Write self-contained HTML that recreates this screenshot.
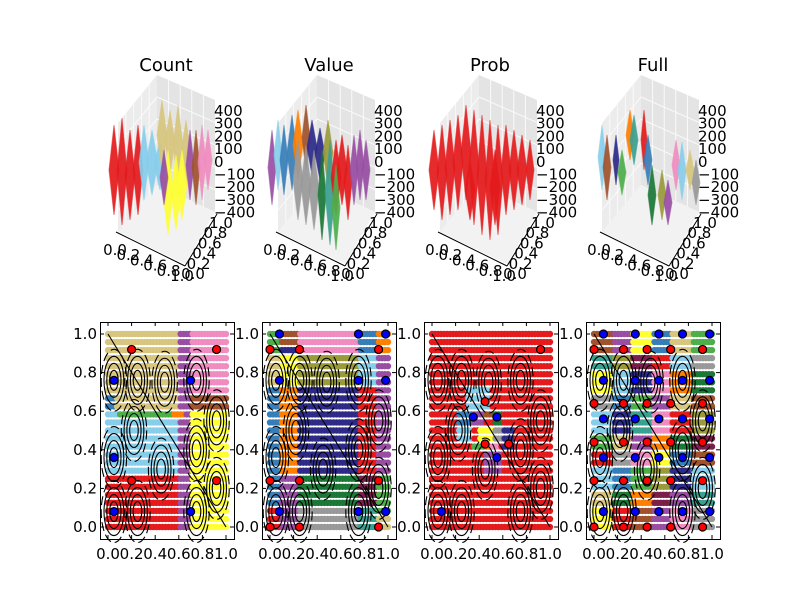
<!DOCTYPE html>
<html><head><meta charset="utf-8"><style>
body{margin:0;background:#fff}
svg{display:block}
text{font-family:"DejaVu Sans","Liberation Sans",sans-serif;fill:#000}
</style></head><body>
<svg id="fig" width="800" height="600" viewBox="0 0 800 600" xmlns="http://www.w3.org/2000/svg">
<rect width="800" height="600" fill="#fff"/>
</svg>
<script>
const titles=["Count","Value","Prob","Full"];
const xTicks=[0,0.2,0.4,0.6,0.8,1.0];
const xTickLabels=["0.0","0.2","0.4","0.6","0.8","1.0"];
const yTickLabels=["0.0","0.2","0.4","0.6","0.8","1.0"];
const zTickLabels=["400","300","200","100","0","\u2212100","\u2212200","\u2212300","\u2212400"];
const yDepthLabels=["1.0","0.8","0.6","0.4","0.2","0.0"];
const C={r:'#e41a1c',sb:'#87ceeb',kh:'#d8c67e',pk:'#f08cc0',pu:'#984ea3',ye:'#ffff33',br:'#a0522d',gr:'#4daf4a',or:'#ff7f00',st:'#377eb8',nv:'#2d2a88',ol:'#9a9a3a',dg:'#1b7837',gy:'#999999',mr:'#7b1e4a',tl:'#3aa090'};
const regions1=[[0,1,0,1,'r'],[0,0.6,0.6,1,'kh'],[0,0.06,0.6,0.7,'st'],[0,0.6,0.25,0.6,'sb'],[0.1,0.6,0.55,0.6,'gr'],[0,0.6,0,0.25,'r'],[0.6,0.7,0,1,'pu'],[0.56,0.65,0.56,0.62,'or'],[0.7,1,0.7,1,'pk'],[0.7,1,0.62,0.7,'br'],[0.7,1,0,0.62,'ye']];
const regions2=[[0,1,0,1,'nv'],[0,0.1,0.1,0.75,'st'],[0,0.1,0.88,1,'gr'],[0,0.1,0,0.1,'r'],[0.1,0.25,0.25,0.72,'or'],[0.1,0.25,0.72,0.88,'ye'],[0.1,0.25,0,0.25,'pu'],[0.1,0.25,0.92,1,'br'],[0,0.1,0.72,0.9,'kh'],[0.25,0.75,0.72,0.9,'ol'],[0.25,0.75,0.9,1,'pk'],[0.25,0.75,0.1,0.25,'dg'],[0.25,0.75,0,0.1,'gy'],[0.75,0.9,0.25,0.72,'r'],[0.75,0.9,0.72,0.9,'sb'],[0.75,0.9,0.9,1,'st'],[0.75,0.9,0.1,0.25,'mr'],[0.75,0.9,0,0.1,'tl'],[0.9,1,0.25,0.9,'pu'],[0.9,1,0.9,1,'or'],[0.9,1,0.05,0.25,'gr'],[0.9,1,0,0.05,'kh']];
const regions3=[[0,1,0,1,'r'],[0.3,0.5,0.62,0.72,'sb'],[0.22,0.35,0.52,0.62,'st'],[0.22,0.35,0.45,0.52,'sb'],[0.35,0.45,0.52,0.6,'pu'],[0.45,0.52,0.55,0.6,'br'],[0.52,0.6,0.52,0.6,'dg'],[0.4,0.52,0.45,0.52,'ye'],[0.52,0.6,0.45,0.52,'gy'],[0.6,0.7,0.4,0.52,'nv'],[0.35,0.45,0.38,0.45,'gr'],[0.45,0.5,0.38,0.45,'or'],[0.5,0.58,0.38,0.45,'pk'],[0.45,0.6,0.28,0.38,'pu']];
const palette4=['ye','r','br','pu','pk','gy','kh','dg','or','mr','pu','tl','sb','st','gr','ol','nv','sb','r','gy','pk','ye','st','br','gr','kh','pu','or','dg','mr','sb','nv','tl','pk','r','ol','gy','st','gr','pu','kh','br','ye','sb','nv','pk','or','dg','tl','ol','mr','r','sb','gy','br','pu','ye','st','kh','gr'];
const regions4=[];
for(let i=0;i<10;i++)for(let j=0;j<6;j++)regions4.push([j/6,(j+1)/6,i/10,(i+1)/10,palette4[(i*6+j)%palette4.length]]);
const allRegions=[regions1,regions2,regions3,regions4];
const blue1=[[0.05,0.08],[0.05,0.36],[0.05,0.76],[0.7,0.76],[0.7,0.08]];
const red1=[[0.2,0.92],[0.92,0.92],[0.2,0.24],[0.92,0.24]];
const blue2=[[0.08,1],[0.75,1],[0.98,1],[0.08,0.76],[0.75,0.76],[0.98,0.76],[0.08,0.08],[0.75,0.08],[0.98,0.08]];
const red2=[[0,0.92],[0.25,0.92],[0.92,0.92],[0,0.24],[0.25,0.24],[0.92,0.24],[0,0],[0.25,0],[0.92,0]];
const blue3=[[0.35,0.57],[0.55,0.57],[0.55,0.36],[0.08,0.08]];
const red3=[[0.45,0.65],[0.45,0.43],[0.65,0.43],[0.92,0.92]];
const bx4=[0.08,0.35,0.55,0.75,0.98],by4=[0.08,0.36,0.56,0.76,1.0];
const rx4=[0,0.25,0.45,0.65,0.92],ry4=[0,0.24,0.44,0.64,0.92];
const blue4=[],red4=[];
by4.forEach(y=>bx4.forEach(x=>blue4.push([x,y])));
ry4.forEach(y=>rx4.forEach(x=>red4.push([x,y])));
const blues=[blue1,blue2,blue3,blue4],reds=[red1,red2,red3,red4];
const contourCenters=[[0.05,0.08],[0.05,0.36],[0.05,0.76],[0.25,0.08],[0.22,0.5],[0.25,0.76],[0.45,0.3],[0.48,0.75],[0.75,0.76],[0.75,0.08],[0.75,0.4],[0.92,0.55],[0.92,0.2]];
const spikes=[
[[-4,125,215,10,'r'],[4,118,225,10,'r'],[12,130,220,10,'r'],[20,125,215,10,'r'],[26,125,200,10,'sb'],[34,130,195,12,'sb'],[42,140,190,12,'sb'],[44,100,170,10,'kh'],[52,110,175,10,'kh'],[60,105,185,10,'kh'],[68,120,185,10,'kh'],[50,150,235,10,'ye'],[58,155,230,10,'ye'],[64,150,220,10,'ye'],[46,150,205,8,'pu'],[72,130,200,8,'pu'],[78,130,205,8,'br'],[84,125,200,8,'pk'],[90,130,190,8,'pk']],
[[-6,130,205,8,'pu'],[0,120,190,8,'sb'],[6,125,195,8,'st'],[14,115,190,10,'st'],[20,110,180,10,'or'],[28,105,170,8,'br'],[34,120,175,10,'nv'],[42,128,180,10,'nv'],[50,120,185,10,'ol'],[20,140,220,10,'gy'],[28,145,225,10,'gy'],[36,150,230,10,'gy'],[44,150,240,8,'dg'],[52,140,245,10,'tl'],[58,140,215,10,'r'],[64,135,205,10,'r'],[70,145,220,8,'r'],[76,135,205,8,'pu'],[82,130,200,8,'pu'],[58,165,250,8,'gr'],[88,140,200,8,'pu']],
[[-6,130,210,10,'r'],[2,125,220,10,'r'],[10,120,215,10,'r'],[18,115,210,10,'r'],[26,105,200,10,'r'],[34,110,225,10,'r'],[42,115,235,10,'r'],[50,120,240,10,'r'],[58,125,235,10,'r'],[66,125,215,10,'r'],[74,130,210,10,'r'],[82,135,205,10,'r'],[90,140,200,8,'r'],[30,160,220,10,'r'],[55,150,225,10,'r']],
[[0,125,190,8,'sb'],[5,135,200,8,'br'],[14,135,185,6,'nv'],[20,150,195,8,'gr'],[28,110,160,8,'or'],[32,115,165,8,'tl'],[42,110,170,6,'r'],[46,135,185,8,'st'],[50,165,225,8,'dg'],[60,170,220,8,'ol'],[66,180,225,8,'pu'],[74,140,190,8,'pk'],[80,142,200,8,'sb'],[88,150,190,8,'kh'],[94,160,205,8,'gy']]
];
const svg=document.getElementById('fig');
const NS='http://www.w3.org/2000/svg';
function mk(tag,attrs,parent){const e=document.createElementNS(NS,tag);for(const k in attrs)e.setAttribute(k,attrs[k]);(parent||svg).appendChild(e);return e;}
function txt(x,y,s,anchor,size,parent){const t=mk('text',{x:x,y:y,'text-anchor':anchor||'middle','font-size':size||13},parent);t.textContent=s;return t;}

const axLefts=[100,262,424,586];
const AW=134, AT=322, AB=539;
function xs(ox,v){return ox+8+v*118;}
function ys(v){return 527-v*193;}
const nCols=40,nRows=25;
for(let p=0;p<4;p++){
  const ox=axLefts[p];
  const g=mk('g',{});
  
  
  mk('rect',{x:ox,y:AT,width:AW,height:AB-AT,fill:'#fff'},g);
  const regs=allRegions[p];
  const dots=mk('g',{},g);
  
  
  for(let i=0;i<nRows;i++){
    const yv=i/(nRows-1);
    for(let j=0;j<nCols;j++){
      const xv=j/(nCols-1);
      let col='r';
      for(const r of regs){if(xv>=r[0]-1e-9&&xv<=r[1]+1e-9&&yv>=r[2]-1e-9&&yv<=r[3]+1e-9)col=r[4];}
      mk('circle',{cx:xs(ox,xv),cy:ys(yv),r:3.2,fill:C[col]},dots);
    }
  }
  const cg=mk('g',{fill:'none',stroke:'#000','stroke-width':1.1},g);
  
  
  contourCenters.forEach(c=>{
    for(let k=1;k<=4;k++){
      mk('ellipse',{cx:xs(ox,c[0]),cy:ys(c[1]),rx:1.5+k*2.8,ry:3+k*7,'stroke-dasharray':k==4?'9 4':'none'},cg);
    }
  });
  mk('line',{x1:xs(ox,0),y1:ys(1),x2:xs(ox,1),y2:ys(0)},cg);
  blues[p].forEach(b=>{const c=mk('circle',{cx:xs(ox,b[0]),cy:ys(b[1]),r:4,fill:'#0000ff',stroke:'#000','stroke-width':1.2},g);});
  reds[p].forEach(b=>{const c=mk('circle',{cx:xs(ox,b[0]),cy:ys(b[1]),r:4,fill:'#ff0000',stroke:'#000','stroke-width':1.2},g);});
  const fr=mk('rect',{x:ox+0.5,y:AT+0.5,width:AW,height:AB-AT,fill:'none',stroke:'#000','stroke-width':1},g);
  
  
  xTicks.forEach((v,i)=>{
    const x=xs(ox,v);
    mk('line',{x1:x,y1:AB,x2:x,y2:AB-4,stroke:'#000'},g);
    mk('line',{x1:x,y1:AT,x2:x,y2:AT+4,stroke:'#000'},g);
    const t=txt(x,559,xTickLabels[i],'middle',15,g);
    
    
    const y=ys(v);
    mk('line',{x1:ox,y1:y,x2:ox+4,y2:y,stroke:'#000'},g);
    mk('line',{x1:ox+AW,y1:y,x2:ox+AW-4,y2:y,stroke:'#000'},g);
    const t2=txt(ox-3,y+5,yTickLabels[i],'end',15,g);
    
    
  });
}
const L3=[118,278,440,602];
const titleX=[166,329,490,653];
for(let p=0;p<4;p++){
  const L=L3[p];
  const g=mk('g',{});
  
  
  const pt=(a)=>a.map(q=>(L+q[0])+','+q[1]).join(' ');
  mk('polygon',{points:pt([[0,123],[39,75],[39,185],[0,232]]),fill:'#ececec'},g);
  mk('polygon',{points:pt([[39,75],[97,100],[97,212],[39,185]]),fill:'#e4e4e4'},g);
  mk('polygon',{points:pt([[0,232],[39,185],[97,212],[67,264]]),fill:'#f2f2f2'},g);
  const gl=mk('g',{stroke:'#fafafa','stroke-width':1},g);
  for(let k=1;k<5;k++){
    const f=k/5;
    mk('line',{x1:L+39+58*f,y1:75+25*f,x2:L+39+58*f,y2:185+27*f},gl);
    mk('line',{x1:L+39*f,y1:123-48*f,x2:L+39*f,y2:232-47*f},gl);
    mk('line',{x1:L,y1:123+109*f,x2:L+39,y2:75+110*f},gl);
    mk('line',{x1:L+39,y1:75+110*f,x2:L+97,y2:100+112*f},gl);
  }
  mk('line',{x1:L-2,y1:232,x2:L+67,y2:266,stroke:'#000','stroke-width':1},g);
  mk('line',{x1:L+67,y1:266,x2:L+99,y2:214,stroke:'#000','stroke-width':1},g);
  const sg=mk('g',{},g);
  
  
  spikes[p].forEach(s=>{
    const x=L+s[0],mid=(s[1]+s[2])/2;
    mk('polygon',{points:`${x},${s[1]} ${x+s[3]/2},${mid} ${x},${s[2]} ${x-s[3]/2},${mid}`,fill:C[s[4]],stroke:C[s[4]],'stroke-opacity':0.6,opacity:0.92},sg);
  });
  const tt=txt(titleX[p],71,titles[p],'middle',18,g);
  
  
  zTickLabels.forEach((s,i)=>{const t=txt(L+96,116+i*12.7,s,'start',15,g);});
  yDepthLabels.forEach((s,i)=>{const t=txt(L+103-i*5.6,228+i*10.2,s,'middle',15,g);});
  xTickLabels.forEach((s,i)=>{const t=txt(L-3+i*13.4,255+i*5.2,s,'middle',15,g);});
}
</script>
</body></html>
